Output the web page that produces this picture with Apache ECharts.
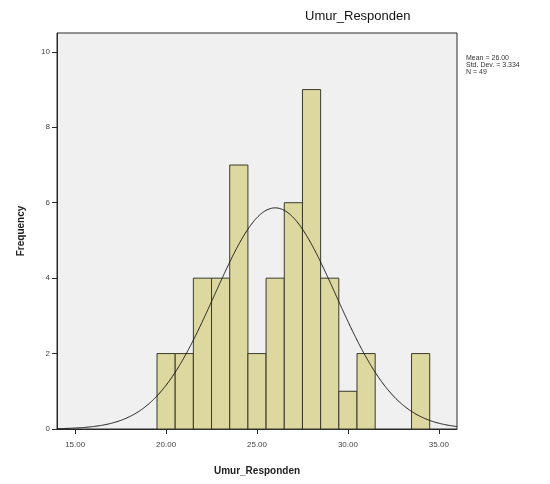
<!DOCTYPE html>
<html>
<head>
<meta charset="utf-8">
<script src="https://cdn.jsdelivr.net/npm/echarts@6/dist/echarts.min.js"></script>
<style>html,body{margin:0;padding:0;background:#fff}#c{width:550px;height:484px}</style>
</head>
<body>
<div id="c"></div>
<script>
// Bin centres (age, years) and frequencies
const binCenters = [20, 21, 22, 23, 24, 25, 26, 27, 28, 29, 30, 31, 32, 33, 34];
const frequencies = [2, 2, 4, 4, 7, 2, 4, 6, 9, 4, 1, 2, 0, 0, 2];
const binWidth = 1;
// Summary statistics printed beside the chart
const statMean = 26.00;
const statSD = 3.334;
const statN = 49;
const xTickValues = [15, 20, 25, 30, 35];
const yTickValues = [0, 2, 4, 6, 8, 10];
const titleText = 'Umur_Responden';
const xName = 'Umur_Responden';
const yName = 'Frequency';

const barData = binCenters.map((c, i) => [c, frequencies[i]]);
// Fitted normal curve from the stated mean / SD / N
const curve = [];
for (let x = 14; x <= 36.0001; x += 0.1) {
  const z = (x - statMean) / statSD;
  curve.push([x, statN * binWidth / (statSD * Math.sqrt(2 * Math.PI)) * Math.exp(-0.5 * z * z)]);
}

const chart = echarts.init(document.getElementById('c'));
const FONT = 'Liberation Sans, Arial, sans-serif';
chart.setOption({
  animation: false,
  backgroundColor: '#ffffff',
  grid: {left: 57, right: 93, top: 33, bottom: 55, show: true, backgroundColor: '#F0F0F0', borderColor: '#2a2a2a', borderWidth: 1},
  xAxis: {
    type: 'value', min: 14, max: 36,
    name: xName, nameLocation: 'middle', nameGap: 37,
    nameTextStyle: {fontFamily: FONT, fontSize: 10, fontWeight: 'bold', color: '#222'},
    axisLine: {show: true, lineStyle: {color: '#2a2a2a'}},
    axisTick: {show: true, customValues: xTickValues, length: 5, lineStyle: {color: '#2a2a2a'}},
    axisLabel: {customValues: xTickValues, formatter: v => v.toFixed(2), fontFamily: FONT, fontSize: 8, color: '#444', margin: 12},
    splitLine: {show: false}
  },
  yAxis: {
    type: 'value', min: 0, max: 10.5,
    name: yName, nameLocation: 'middle', nameGap: 31,
    nameTextStyle: {fontFamily: FONT, fontSize: 10, fontWeight: 'bold', color: '#222'},
    axisLine: {show: true, lineStyle: {color: '#2a2a2a'}},
    axisTick: {show: true, customValues: yTickValues, length: 5, lineStyle: {color: '#2a2a2a'}},
    axisLabel: {customValues: yTickValues, fontFamily: FONT, fontSize: 8, color: '#444', margin: 7},
    splitLine: {show: false}
  },
  series: [
    {
      type: 'custom',
      data: barData,
      encode: {x: 0, y: 1},
      renderItem: function (params, api) {
        const c = api.value(0), v = api.value(1);
        if (!v) return null;
        const p0 = api.coord([c - binWidth / 2, v]);
        const p1 = api.coord([c + binWidth / 2, 0]);
        return {
          type: 'rect',
          shape: {x: p0[0], y: p0[1], width: p1[0] - p0[0], height: p1[1] - p0[1]},
          style: {fill: '#DCD89F', stroke: '#3b3a2c', lineWidth: 1}
        };
      },
      z: 2
    },
    {
      type: 'line', data: curve, showSymbol: false, smooth: true,
      lineStyle: {color: '#1a1a1a', width: 1}, z: 3
    }
  ],
  graphic: [
    {type: 'text', left: 305, top: 10, style: {text: titleText, font: '13px ' + FONT, fill: '#111', textAlign: 'center'}},
    {type: 'text', left: 466, top: 55, style: {text: 'Mean = ' + statMean.toFixed(2) + '\nStd. Dev. = ' + statSD.toFixed(3) + '\nN = ' + statN, font: '7px ' + FONT, fill: '#333', lineHeight: 7}}
  ]
});
</script>
</body>
</html>
